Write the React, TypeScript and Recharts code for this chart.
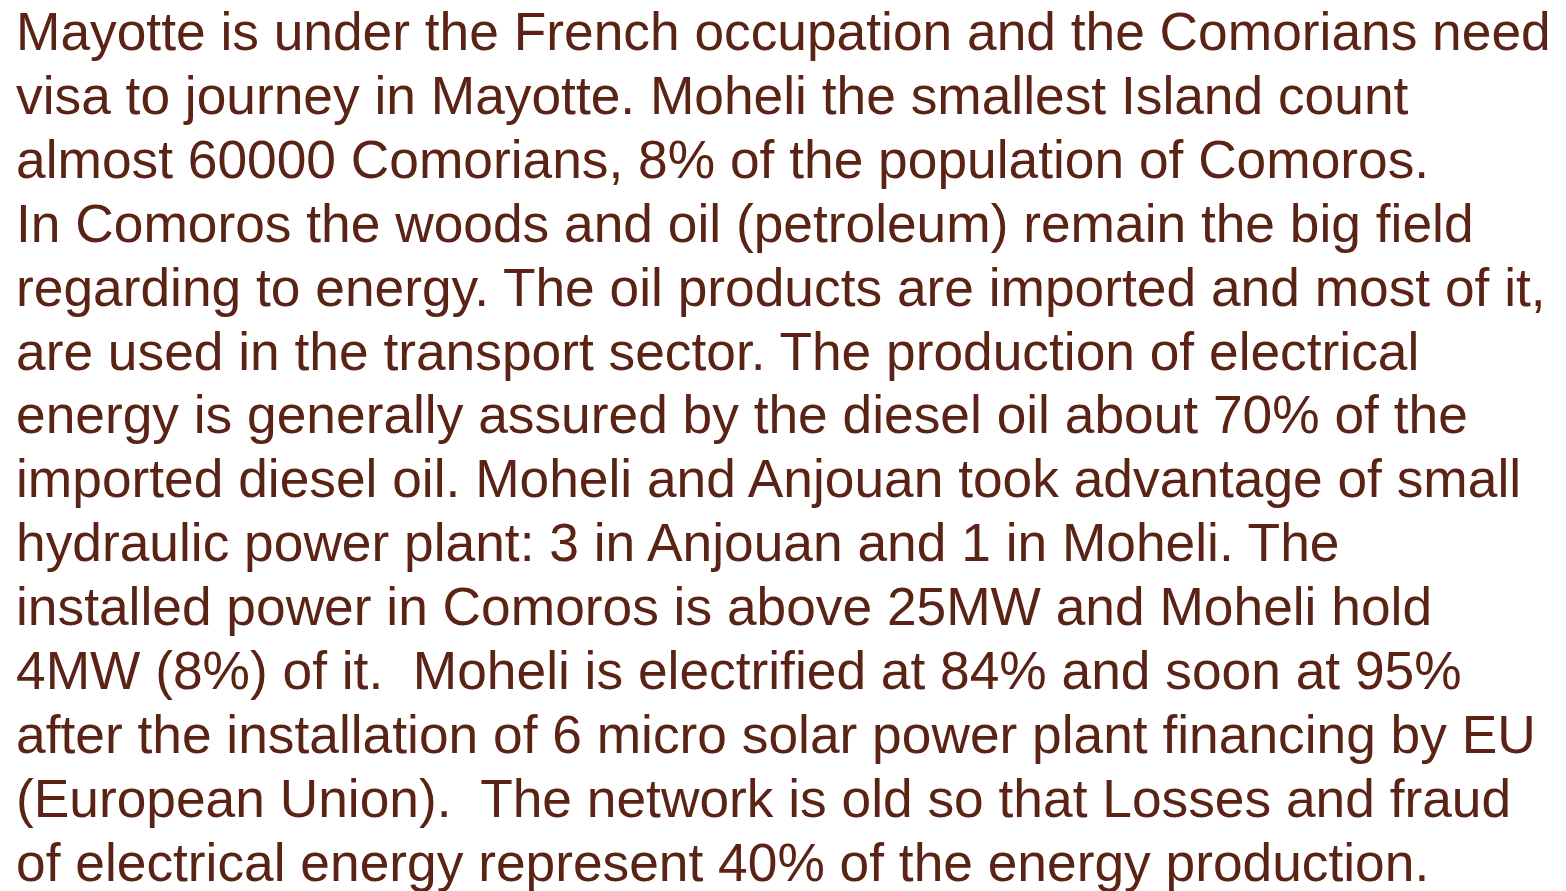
import React from "react";
import { Surface } from "recharts";

const lines: string[] = [
  "Mayotte is under the French occupation and the Comorians need",
  "visa to journey in Mayotte. Moheli the smallest Island count",
  "almost 60000 Comorians, 8% of the population of Comoros.",
  "In Comoros the woods and oil (petroleum) remain the big field",
  "regarding to energy. The oil products are imported and most of it,",
  "are used in the transport sector. The production of electrical",
  "energy is generally assured by the diesel oil about 70% of the",
  "imported diesel oil. Moheli and Anjouan took advantage of small",
  "hydraulic power plant: 3 in Anjouan and 1 in Moheli. The",
  "installed power in Comoros is above 25MW and Moheli hold",
  "4MW (8%) of it.  Moheli is electrified at 84% and soon at 95%",
  "after the installation of 6 micro solar power plant financing by EU",
  "(European Union).  The network is old so that Losses and fraud",
  "of electrical energy represent 40% of the energy production.",
];

const W = 1566;
const H = 891;

export default function App() {
  return (
    <div style={{ position: "absolute", left: 0, top: 0, width: W, height: H, background: "#ffffff" }}>
      <Surface width={W} height={H}>
        {lines.map((t, i) => (
          <text
            key={i}
            x={16}
            y={50 + i * 63.9}
            fill="#5a2315"
            fontFamily="'Liberation Sans', Arial, sans-serif"
            fontSize={53.3}
            style={{ whiteSpace: "pre" }}
          >
            {t}
          </text>
        ))}
      </Surface>
    </div>
  );
}
